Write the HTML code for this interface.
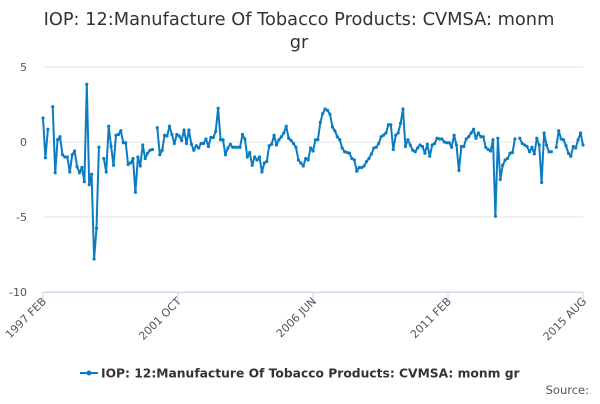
<!DOCTYPE html>
<html><head><meta charset="utf-8"><style>
body{margin:0;background:#fff;font-family:"DejaVu Sans",sans-serif;}
svg text{font-family:"DejaVu Sans",sans-serif;}
</style></head><body>
<svg id="chart" width="600" height="400">
<text x="299" y="25" text-anchor="middle" font-size="17.8" fill="#333">IOP: 12:Manufacture Of Tobacco Products: CVMSA: monm</text>
<text x="299" y="48" text-anchor="middle" font-size="17.8" fill="#333">gr</text>
<g id="grid"></g><g id="xaxis"></g><g id="series"></g>
<g>
<line x1="80" y1="373" x2="98" y2="373" stroke="#0a7dc2" stroke-width="2"/>
<circle cx="89" cy="373" r="2.5" fill="#0a7dc2"/>
<text x="101" y="377.5" font-size="12.3" font-weight="bold" fill="#333">IOP: 12:Manufacture Of Tobacco Products: CVMSA: monm gr</text>
</g>
<text x="589" y="394" text-anchor="end" font-size="11.5" fill="#555">Source:</text>
</svg>
<script>
const yTicks=[5,0,-5,-10];
const xTickLabels=["1997 FEB","2001 OCT","2006 JUN","2011 FEB","2015 AUG"];
const values=[1.6,-1.05,0.85,null,2.35,-2.05,0.15,0.35,-0.85,-1,-1,-2,-0.85,-0.6,-1.65,-2.05,-1.7,-2.65,3.85,-2.85,-2.15,-7.8,-5.75,-0.35,null,-1.1,-2,1.05,-0.3,-1.55,0.45,0.5,0.75,-0.05,-0.05,-1.5,-1.4,-1.1,-3.35,-1,-1.6,-0.2,-1.1,-0.75,-0.55,-0.5,null,0.95,-0.85,-0.55,0.45,0.4,1.05,0.5,-0.1,0.5,0.4,0.1,0.8,-0.1,0.8,-0.15,-0.55,-0.25,-0.4,-0.1,-0.1,0.2,-0.3,0.3,0.3,0.7,2.25,
0.15,0.15,-0.85,-0.4,-0.15,-0.35,-0.35,-0.35,-0.35,0.5,0.2,-1,-0.7,-1.55,-1,-1.2,-1,-2,-1.4,-1.3,-0.25,-0.15,0.45,-0.2,0.15,0.35,0.6,1.05,0.25,0.1,-0.1,-0.35,-1.2,-1.4,-1.6,-1.1,-1.2,-0.4,-0.6,0.15,0.15,1.3,1.9,2.2,2.1,1.85,1.0,0.75,0.35,0.15,-0.4,-0.65,-0.7,-0.75,-1.1,-1.2,-1.95,-1.7,-1.7,-1.6,-1.3,-1.1,-0.8,-0.4,-0.35,-0.1,0.35,0.45,0.6,1.15,1.15,-0.5,0.45,0.6,1.25,2.2,-0.3,0.15,
-0.2,-0.55,-0.65,-0.4,-0.2,-0.3,-0.75,-0.15,-0.95,-0.2,-0.1,0.25,0.2,0.2,0,-0.05,-0.05,-0.35,0.45,-0.2,-1.9,-0.3,-0.3,0.2,0.35,0.6,0.85,0.25,0.6,0.35,0.35,-0.35,-0.5,-0.6,0.15,-4.95,0.25,-2.5,-1.55,-1.2,-1.1,-0.75,-0.7,0.2,null,0.25,-0.1,-0.2,-0.3,-0.65,-0.35,-0.8,0.25,-0.2,-2.7,0.6,-0.2,-0.65,-0.65,null,-0.35,0.75,0.2,0.15,-0.25,-0.75,-0.95,-0.3,-0.4,0.15,0.6,-0.2];
const NS="http://www.w3.org/2000/svg";
const X0=43,X1=583,Y0=142,PU=15;
const xs=i=>X0+(X1-X0)*i/(values.length-1);
const ys=v=>Y0-v*PU;
const grid=document.getElementById('grid');
yTicks.forEach(t=>{
 const l=document.createElementNS(NS,'line');
 
 
 l.setAttribute('x1',X0);l.setAttribute('x2',X1);l.setAttribute('y1',ys(t));l.setAttribute('y2',ys(t));
 l.setAttribute('stroke','#e3e3e3');grid.appendChild(l);
 const tx=document.createElementNS(NS,'text');
 
 
 tx.setAttribute('x',27);tx.setAttribute('y',ys(t)+4);tx.setAttribute('text-anchor','end');
 tx.setAttribute('font-size','11');tx.setAttribute('fill','#555');tx.textContent=t;grid.appendChild(tx);
});
const xa=document.getElementById('xaxis');
const ax=document.createElementNS(NS,'line');


ax.setAttribute('x1',X0);ax.setAttribute('x2',X1);ax.setAttribute('y1',292.5);ax.setAttribute('y2',292.5);ax.setAttribute('stroke','#ccd6eb');xa.appendChild(ax);
xTickLabels.forEach((s,k)=>{
 const x=X0+(X1-X0)*k/(xTickLabels.length-1);
 const tk=document.createElementNS(NS,'line');
 
 
 tk.setAttribute('x1',x);tk.setAttribute('x2',x);tk.setAttribute('y1',292);tk.setAttribute('y2',302);tk.setAttribute('stroke','#ccd6eb');xa.appendChild(tk);
 const t=document.createElementNS(NS,'text');
 
 
 t.setAttribute('transform',`translate(${x+4},${302}) rotate(-45)`);t.setAttribute('text-anchor','end');
 t.setAttribute('font-size','11');t.setAttribute('fill','#555');t.textContent=s;xa.appendChild(t);
});
const ser=document.getElementById('series');
let d='',pen=false;
values.forEach((v,i)=>{
 if(v===null){pen=false;return;}
 d+=(pen?'L':'M')+xs(i).toFixed(1)+' '+ys(v).toFixed(1);pen=true;
});
const p=document.createElementNS(NS,'path');


p.setAttribute('d',d);p.setAttribute('fill','none');p.setAttribute('stroke','#0a7dc2');p.setAttribute('stroke-width','2');p.setAttribute('stroke-linejoin','round');
ser.appendChild(p);
values.forEach((v,i)=>{
 if(v===null)return;
 const c=document.createElementNS(NS,'circle');
 
 
 c.setAttribute('cx',xs(i));c.setAttribute('cy',ys(v));c.setAttribute('r',1.6);c.setAttribute('fill','#0a7dc2');
 ser.appendChild(c);
});
</script>
</body></html>
